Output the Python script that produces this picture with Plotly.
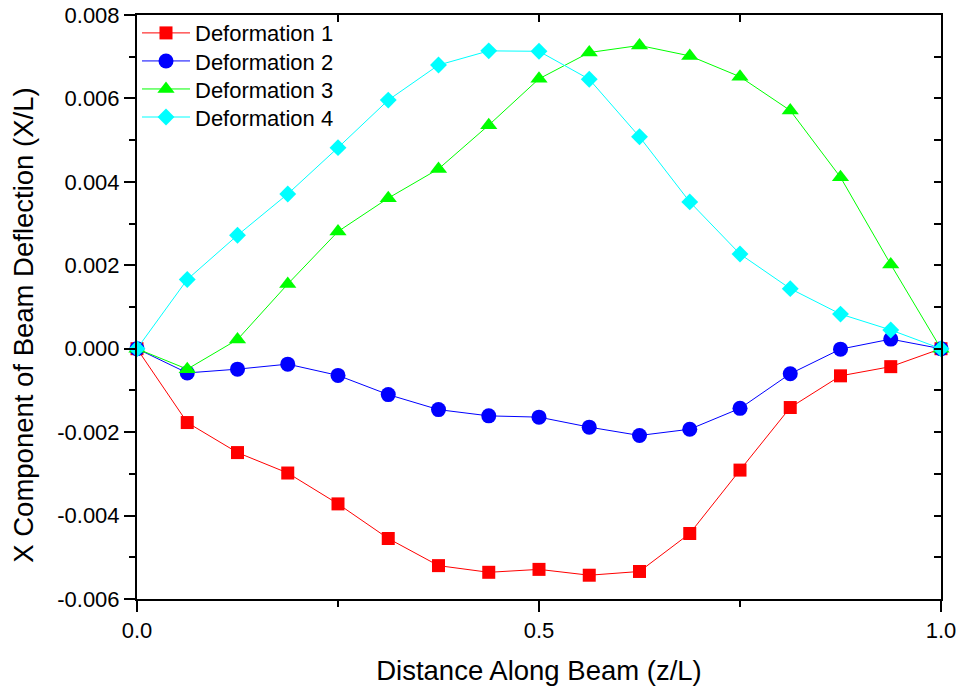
import plotly.graph_objects as go

# Positions along the beam, normalised by length (17 stations)
z_over_L = [0, 0.0625, 0.125, 0.1875, 0.25, 0.3125, 0.375, 0.4375, 0.5,
            0.5625, 0.625, 0.6875, 0.75, 0.8125, 0.875, 0.9375, 1.0]

deformation_1 = [0.0, -0.00177, -0.00249, -0.00298, -0.00372, -0.00455, -0.00520,
                 -0.00536, -0.00529, -0.00543, -0.00534, -0.00443, -0.00291,
                 -0.00141, -0.00065, -0.00043, 0.0]
deformation_2 = [0.0, -0.00058, -0.00049, -0.00037, -0.00064, -0.00110, -0.00146,
                 -0.00161, -0.00164, -0.00188, -0.00208, -0.00193, -0.00143,
                 -0.00060, -0.00001, 0.00023, 0.0]
deformation_3 = [0.0, -0.00049, 0.00022, 0.00155, 0.00281, 0.00361, 0.00431,
                 0.00536, 0.00647, 0.00710, 0.00727, 0.00702, 0.00652,
                 0.00571, 0.00411, 0.00202, 0.0]
deformation_4 = [0.0, 0.00166, 0.00272, 0.00371, 0.00482, 0.00596, 0.00680,
                 0.00714, 0.00713, 0.00646, 0.00508, 0.00352, 0.00227,
                 0.00144, 0.00083, 0.00045, 0.0]

series_names = ["Deformation 1", "Deformation 2", "Deformation 3", "Deformation 4"]
series_values = [deformation_1, deformation_2, deformation_3, deformation_4]
series_colors = ["#FF0000", "#0000FF", "#00FF00", "#00FFFF"]
series_symbols = ["square", "circle", "triangle-up", "diamond"]
series_sizes = [13, 15, 15, 13]

x_tick_vals = [0.0, 0.5, 1.0]
x_tick_text = ["0.0", "0.5", "1.0"]
y_tick_vals = [-0.006, -0.004, -0.002, 0.0, 0.002, 0.004, 0.006, 0.008]
y_tick_text = ["-0.006", "-0.004", "-0.002", "0.000", "0.002", "0.004", "0.006", "0.008"]

FONT = "Liberation Sans, Arial, sans-serif"
LEGEND_FONT = dict(family=FONT, size=22)

fig = go.Figure()
legend_ids = ["legend", "legend2", "legend3", "legend4"]
for name, vals, color, sym, size, lg in zip(series_names, series_values, series_colors,
                                            series_symbols, series_sizes, legend_ids):
    fig.add_trace(go.Scatter(
        x=z_over_L, y=vals, name=name, mode="lines+markers",
        line=dict(color=color, width=1),
        marker=dict(symbol=sym, size=size, color=color, line=dict(width=0)),
        cliponaxis=False, legend=lg,
    ))

# Trace that brings the top/right frame axes into existence (draws nothing)
fig.add_trace(go.Scatter(x=z_over_L, y=deformation_1, xaxis="x2", yaxis="y2",
                         mode="none", showlegend=False, hoverinfo="skip"))

axis_common = dict(showline=True, linecolor="black", linewidth=2,
                   showgrid=False, zeroline=False, tickcolor="black",
                   tickwidth=2, automargin=False)


def legend_box(y):
    # one legend entry per box, stacked down the upper-left corner
    return dict(x=0.0, y=y, xanchor="left", yanchor="middle",
                bgcolor="rgba(0,0,0,0)", borderwidth=0, itemwidth=48,
                font=LEGEND_FONT)


fig.update_layout(
    width=961, height=689,
    margin=dict(l=137, r=20, t=15, b=90, autoexpand=False),
    paper_bgcolor="white", plot_bgcolor="white",
    font=dict(family=FONT, size=22, color="black"),
    showlegend=True,
    legend=legend_box(0.969),
    legend2=legend_box(0.921),
    legend3=legend_box(0.873),
    legend4=legend_box(0.825),
    xaxis=dict(
        **axis_common, range=[0, 1], ticks="outside", ticklen=11,
        tickvals=x_tick_vals, ticktext=x_tick_text,
        minor=dict(tickvals=[0.25, 0.75], ticks="outside", ticklen=6,
                   tickwidth=2, tickcolor="black"),
        title=dict(text="Distance Along Beam (z/L)", font=dict(size=27.5), standoff=18),
    ),
    yaxis=dict(
        **axis_common, range=[-0.006, 0.008], ticks="outside", ticklen=11,
        tickvals=y_tick_vals, ticktext=y_tick_text,
        minor=dict(tickvals=[-0.005, -0.003, -0.001, 0.001, 0.003, 0.005, 0.007],
                   ticks="outside", ticklen=6, tickwidth=2, tickcolor="black"),
    ),
    # Frame on top and right with inward-pointing ticks
    xaxis2=dict(
        **axis_common, overlaying="x", side="top", matches="x", range=[0, 1],
        ticks="inside", ticklen=7, tickvals=[0.25, 0.5, 0.75],
        showticklabels=False, anchor="y",
    ),
    yaxis2=dict(
        **axis_common, overlaying="y", side="right", matches="y",
        range=[-0.006, 0.008], ticks="inside", ticklen=7,
        tickvals=[-0.005, -0.004, -0.003, -0.002, -0.001, 0.0, 0.001, 0.002,
                  0.003, 0.004, 0.005, 0.006, 0.007],
        showticklabels=False, anchor="x",
    ),
    annotations=[dict(
        text="X Component of Beam Deflection (X/L)", textangle=-90,
        xref="paper", yref="paper", x=-0.1405, y=0.468,
        xanchor="center", yanchor="middle", showarrow=False,
        font=dict(family=FONT, size=27.5, color="black"),
    )],
)

fig.write_html("out.html")
